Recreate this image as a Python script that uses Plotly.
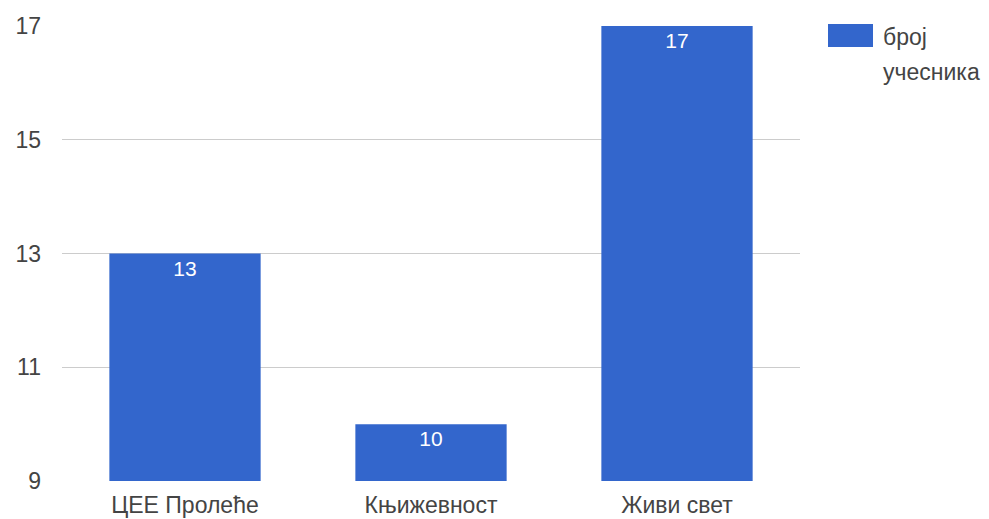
import plotly.graph_objects as go

categories = ["ЦЕЕ Пролеће", "Књижевност", "Живи свет"]
values = [13, 10, 17]
series_name = "број учесника"
y_ticks = [9, 11, 13, 15, 17]

bar_color = "#3366CC"
text_color = "#444444"
font_family = "Liberation Sans, Arial, sans-serif"

# plot area in page pixels (reference)
PL, PR, PT, PB = 62, 800, 26, 481
OFF = 8  # page offset

fig = go.Figure()
fig.add_trace(go.Bar(
    x=categories, y=values, name=series_name,
    marker=dict(color=bar_color, line=dict(width=0)),
    text=[str(v) for v in values],
    textposition="inside", insidetextanchor="end",
    textfont=dict(color="white", size=21, family=font_family),
    showlegend=False,
))

fig.update_layout(
    width=989, height=519,
    margin=dict(l=PL - OFF, r=989 - (PR - OFF), t=PT - OFF, b=519 - (PB - OFF)),
    paper_bgcolor="white", plot_bgcolor="white",
    bargap=0.385,
    font=dict(family=font_family, size=23, color=text_color),
    xaxis=dict(showgrid=False, showline=False, zeroline=False, ticks="",
               automargin=False,
               ticklabelstandoff=8, tickfont=dict(size=23, color=text_color)),
    yaxis=dict(range=[9, 17], tickvals=y_ticks, showgrid=True, gridcolor="#cccccc",
               gridwidth=1, zeroline=False, showline=False, ticks="",
               automargin=False,
               ticklabelstandoff=20, tickfont=dict(size=23, color=text_color)),
)

W = PR - PL
H = PB - PT
fig.add_shape(type="rect", xref="paper", yref="paper",
              x0=(828 - PL) / W, x1=(873 - PL) / W,
              y0=(PB - 47) / H, y1=(PB - 24) / H,
              fillcolor=bar_color, line=dict(width=0))
words = series_name.split(" ")
for i, w in enumerate(words):
    fig.add_annotation(xref="paper", yref="paper",
                       x=(881 - PL) / W,
                       y=(PB - (37 + 35 * i)) / H,
                       text=w, showarrow=False, xanchor="left", yanchor="middle",
                       font=dict(size=23, color=text_color, family=font_family))

fig.write_html("out.html")
